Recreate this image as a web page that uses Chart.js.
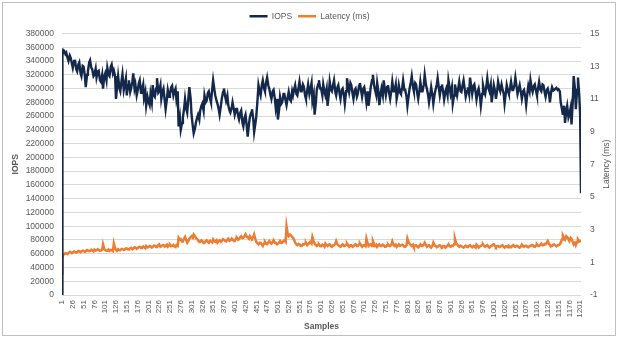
<!DOCTYPE html>
<html>
<head>
<meta charset="utf-8">
<script src="https://cdn.jsdelivr.net/npm/chart.js@4.4.0/dist/chart.umd.min.js"></script>
<style>
html, body { margin: 0; padding: 0; background: #fff; }
#wrap { position: relative; width: 619px; height: 338px; }
#wrap canvas { position: absolute; left: 0; top: 0; }
#frame { position: absolute; left: 2px; top: 2px; width: 612px; height: 332px; border: 1px solid #bfbfbf; pointer-events: none; }
</style>
</head>
<body>
<div id="wrap"><canvas id="myChart" width="619" height="338"></canvas><div id="frame"></div></div>
<script>
// sample numbers (about every 2-3 samples)
var samples = [1, 2, 4, 6, 9, 11, 14, 16, 19, 21, 24, 26, 29, 31, 34, 36, 39, 41, 44, 46, 49, 51, 54, 56, 59, 61, 64, 66, 69, 71, 74, 76, 79, 81, 84, 86, 89, 91, 94, 96, 99,
  101, 104, 106, 109, 111, 114, 116, 119, 121, 124, 126, 129, 131, 134, 136, 139, 141, 144, 146, 149, 151, 154, 156, 159, 161, 164, 166, 169, 171, 174, 176, 179, 181, 184, 186, 189, 191, 194, 196, 199,
  201, 204, 206, 209, 211, 214, 216, 219, 221, 224, 226, 229, 231, 234, 236, 239, 241, 244, 246, 249, 251, 254, 256, 259, 261, 264, 266, 269, 271, 274, 276, 279, 281, 284, 286, 289, 291, 294, 296, 299,
  301, 304, 306, 309, 311, 314, 316, 319, 321, 324, 326, 329, 331, 334, 336, 339, 341, 344, 346, 349, 351, 354, 356, 359, 361, 364, 366, 369, 371, 374, 376, 379, 381, 384, 386, 389, 391, 394, 396, 399,
  401, 404, 406, 409, 411, 414, 416, 419, 421, 424, 426, 429, 431, 434, 436, 439, 441, 444, 446, 449, 451, 454, 456, 459, 461, 464, 466, 469, 471, 474, 476, 479, 481, 484, 486, 489, 491, 494, 496, 499,
  501, 504, 506, 509, 511, 514, 516, 519, 521, 524, 526, 529, 531, 534, 536, 539, 541, 544, 546, 549, 551, 554, 556, 559, 561, 564, 566, 569, 571, 574, 576, 579, 581, 584, 586, 589, 591, 594, 596, 599,
  601, 604, 606, 609, 611, 614, 616, 619, 621, 624, 626, 629, 631, 634, 636, 639, 641, 644, 646, 649, 651, 654, 656, 659, 661, 664, 666, 669, 671, 674, 676, 679, 681, 684, 686, 689, 691, 694, 696, 699,
  701, 704, 706, 709, 711, 714, 716, 719, 721, 724, 726, 729, 731, 734, 736, 739, 741, 744, 746, 749, 751, 754, 756, 759, 761, 764, 766, 769, 771, 774, 776, 779, 781, 784, 786, 789, 791, 794, 796, 799,
  801, 804, 806, 809, 811, 814, 816, 819, 821, 824, 826, 829, 831, 834, 836, 839, 841, 844, 846, 849, 851, 854, 856, 859, 861, 864, 866, 869, 871, 874, 876, 879, 881, 884, 886, 889, 891, 894, 896, 899,
  901, 904, 906, 909, 911, 914, 916, 919, 921, 924, 926, 929, 931, 934, 936, 939, 941, 944, 946, 949, 951, 954, 956, 959, 961, 964, 966, 969, 971, 974, 976, 979, 981, 984, 986, 989, 991, 994, 996, 999,
  1001, 1004, 1006, 1009, 1011, 1014, 1016, 1019, 1021, 1024, 1026, 1029, 1031, 1034, 1036, 1039, 1041, 1044, 1046, 1049, 1051, 1054, 1056, 1059, 1061, 1064, 1066, 1069, 1071, 1074, 1076, 1079, 1081, 1084, 1086, 1089, 1091, 1094, 1096, 1099,
  1101, 1104, 1106, 1109, 1111, 1114, 1116, 1119, 1121, 1124, 1126, 1129, 1131, 1134, 1136, 1139, 1141, 1144, 1146, 1149, 1151, 1154, 1156, 1159, 1161, 1164, 1166, 1169, 1171, 1174, 1176, 1179, 1181, 1184, 1186, 1189, 1191, 1194, 1196, 1199,
  1201, 1203];

// IOPS in thousands
var iopsK = [0, 348, 356, 355, 350, 352, 344, 340, 348, 345, 336, 330, 340, 342, 328, 325, 335, 338, 322, 318, 333, 332, 318, 302, 320, 325, 338, 341, 330, 328, 318, 320, 329, 316, 325, 326, 312, 310, 320, 300, 318,
  322, 312, 330, 320, 318, 332, 335, 322, 326, 318, 285, 305, 318, 300, 296, 312, 321, 298, 305, 315, 290, 305, 312, 295, 300, 310, 322, 300, 306, 290, 296, 308, 312, 294, 298, 306, 286, 295, 275, 288,
  282, 276, 292, 280, 305, 290, 288, 300, 315, 294, 296, 305, 285, 296, 300, 282, 270, 285, 298, 288, 292, 302, 304, 290, 295, 300, 285, 296, 245, 258, 240, 250, 258, 272, 285, 270, 265, 288, 302, 285,
  262, 245, 235, 242, 250, 258, 262, 255, 268, 275, 278, 268, 290, 280, 282, 294, 296, 285, 280, 300, 312, 298, 290, 282, 278, 270, 262, 275, 285, 295, 300, 288, 282, 290, 276, 268, 265, 272, 280, 270,
  262, 270, 272, 260, 255, 265, 268, 250, 245, 258, 262, 245, 230, 248, 258, 265, 270, 255, 237, 250, 260, 285, 305, 295, 290, 306, 312, 300, 296, 310, 316, 304, 300, 290, 285, 296, 298, 285, 272, 285,
  255, 270, 288, 278, 280, 292, 292, 282, 276, 288, 295, 284, 282, 296, 290, 300, 305, 292, 290, 302, 310, 296, 296, 306, 303, 290, 285, 298, 306, 292, 298, 308, 282, 292, 262, 280, 298, 306, 312, 300,
  300, 290, 306, 295, 290, 300, 275, 292, 310, 298, 296, 306, 312, 295, 290, 302, 305, 292, 285, 298, 300, 290, 278, 296, 315, 302, 295, 308, 305, 292, 285, 298, 300, 288, 292, 304, 308, 296, 288, 300,
  302, 290, 280, 296, 275, 290, 302, 312, 320, 304, 298, 290, 308, 295, 276, 292, 300, 290, 312, 298, 290, 302, 305, 292, 285, 298, 310, 296, 296, 306, 285, 295, 305, 294, 292, 302, 312, 298, 298, 288,
  275, 290, 300, 310, 318, 302, 296, 308, 306, 292, 285, 298, 310, 296, 296, 306, 320, 305, 300, 290, 280, 292, 302, 290, 278, 292, 298, 306, 315, 300, 290, 302, 306, 294, 284, 296, 300, 290, 312, 300,
  292, 302, 278, 290, 306, 296, 290, 302, 310, 296, 295, 306, 312, 298, 288, 296, 302, 292, 316, 302, 292, 304, 306, 294, 284, 296, 300, 288, 275, 292, 305, 296, 292, 304, 315, 300, 296, 306, 280, 294,
  305, 296, 285, 298, 310, 300, 296, 306, 300, 292, 278, 294, 305, 296, 292, 302, 310, 298, 298, 306, 316, 302, 292, 300, 305, 294, 285, 296, 298, 288, 276, 294, 304, 296, 312, 300, 295, 304, 306, 296,
  290, 302, 310, 298, 296, 306, 305, 294, 288, 298, 300, 292, 280, 296, 302, 297, 298, 300, 301, 298, 299, 296, 280, 270, 262, 275, 250, 268, 275, 258, 262, 272, 248, 282, 318, 300, 270, 298, 316, 290,
  262, 148];

// Latency in ms
var latencyMs = [0.3, 1.3, 1.45, 1.5, 1.56, 1.55, 1.5, 1.58, 1.64, 1.62, 1.56, 1.6, 1.67, 1.65, 1.6, 1.62, 1.7, 1.68, 1.62, 1.66, 1.72, 1.7, 1.64, 1.68, 1.75, 1.75, 1.68, 1.7, 1.77, 1.72, 1.67, 1.78, 1.72, 1.74, 1.8, 1.76, 1.7, 1.72, 1.78, 2.1, 1.8,
  1.75, 1.7, 1.72, 1.78, 1.7, 1.76, 1.74, 1.69, 2.15, 1.85, 1.78, 1.72, 1.8, 1.74, 1.74, 1.82, 1.82, 1.76, 1.78, 1.86, 1.85, 1.78, 1.8, 1.87, 1.88, 1.8, 1.84, 1.92, 1.9, 1.82, 1.86, 1.94, 1.95, 1.87, 1.9, 1.97, 1.92, 1.86, 2.0, 1.92,
  1.93, 2.0, 1.98, 1.9, 1.95, 2.03, 2.02, 1.94, 1.96, 2.05, 2.1, 1.95, 1.98, 2.06, 2.05, 1.96, 2.0, 2.08, 1.96, 2.04, 2.08, 1.98, 2.0, 2.07, 1.98, 1.94, 2.05, 2.0, 2.5, 2.38, 2.42, 2.28, 2.3, 2.45, 2.55, 2.35, 2.2, 2.32, 2.45, 2.55,
  2.6, 2.5, 2.7, 2.6, 2.5, 2.42, 2.35, 2.25, 2.25, 2.35, 2.3, 2.18, 2.2, 2.3, 2.35, 2.25, 2.2, 2.32, 2.3, 2.22, 2.4, 2.28, 2.25, 2.35, 2.2, 2.3, 2.35, 2.25, 2.3, 2.42, 2.4, 2.3, 2.28, 2.38, 2.45, 2.32, 2.35, 2.45, 2.4, 2.3,
  2.3, 2.45, 2.5, 2.38, 2.42, 2.55, 2.6, 2.48, 2.5, 2.62, 2.72, 2.55, 2.55, 2.45, 2.6, 2.5, 2.45, 2.55, 2.7, 2.4, 2.25, 2.15, 2.1, 2.2, 2.2, 2.08, 2.0, 2.15, 2.25, 2.12, 2.1, 2.22, 2.3, 2.18, 2.15, 2.25, 2.35, 2.2, 2.2, 2.1,
  2.1, 2.2, 2.3, 2.18, 2.2, 2.3, 2.35, 2.25, 3.2, 2.7, 2.6, 2.7, 2.65, 2.55, 2.5, 2.35, 2.2, 2.1, 2.05, 2.12, 2.1, 2.0, 2.0, 2.1, 2.08, 2.15, 2.2, 2.05, 2.1, 2.2, 2.25, 2.15, 2.55, 2.3, 2.15, 2.05, 2.0, 2.08, 2.1, 1.98,
  1.98, 2.08, 2.05, 1.95, 2.15, 2.05, 2.0, 2.08, 2.1, 1.98, 1.95, 2.05, 2.05, 2.15, 2.3, 2.1, 2.05, 1.98, 1.95, 2.05, 2.1, 2.0, 2.0, 2.08, 2.15, 2.02, 1.95, 2.05, 2.05, 1.95, 1.98, 2.06, 2.1, 2.0, 2.0, 2.1, 2.15, 2.02, 1.95, 2.05,
  2.05, 1.98, 2.45, 2.15, 2.0, 2.08, 2.1, 2.0, 2.3, 2.1, 2.0, 2.08, 1.95, 2.05, 2.1, 2.0, 2.0, 2.08, 2.05, 1.95, 1.95, 2.05, 2.1, 2.0, 2.0, 2.1, 2.28, 2.05, 2.0, 2.08, 1.95, 2.02, 2.1, 2.0, 2.0, 2.08, 2.05, 1.95, 1.95, 2.05,
  2.45, 2.2, 2.15, 2.05, 2.0, 2.08, 1.95, 2.03, 2.05, 1.95, 1.92, 2.02, 2.1, 2.0, 2.0, 2.1, 2.2, 2.05, 1.95, 2.02, 2.05, 1.95, 1.9, 2.0, 2.2, 2.05, 2.0, 1.92, 1.95, 2.03, 2.05, 1.95, 1.92, 2.0, 2.0, 1.9, 1.95, 2.02, 2.1, 1.98,
  1.95, 2.02, 2.0, 2.1, 2.45, 2.15, 2.1, 2.0, 1.95, 2.02, 2.0, 1.92, 1.9, 1.98, 2.02, 1.94, 1.95, 2.03, 2.05, 1.96, 1.92, 2.0, 1.98, 1.9, 2.08, 1.98, 1.9, 1.98, 2.0, 2.06, 2.1, 1.98, 1.95, 2.02, 2.05, 1.94, 1.9, 1.98, 2.0, 2.08,
  2.1, 1.98, 1.92, 2.0, 2.0, 1.93, 1.95, 2.03, 2.05, 1.96, 1.9, 1.98, 1.98, 1.92, 2.0, 1.94, 1.92, 2.0, 2.05, 1.96, 1.95, 2.02, 2.0, 1.93, 1.9, 1.98, 2.08, 1.97, 1.95, 2.02, 2.02, 1.94, 1.92, 2.0, 2.0, 2.06, 2.05, 1.96, 1.95, 2.04,
  2.1, 2.0, 2.0, 2.08, 2.15, 2.05, 2.05, 2.12, 2.1, 2.2, 2.3, 2.12, 2.05, 2.0, 2.0, 2.08, 2.1, 2.02, 1.98, 2.05, 2.05, 2.1, 2.2, 2.4, 2.65, 2.5, 2.4, 2.6, 2.55, 2.4, 2.3, 2.5, 2.45, 2.25, 2.1, 2.2, 2.05, 2.25, 2.4, 2.28,
  2.3, 2.35];

// x axis tick labels
var tickLabels = [1, 26, 51, 76, 101, 126, 151, 176, 201, 226, 251, 276, 301, 326, 351, 376, 401, 426, 451, 476,
  501, 526, 551, 576, 601, 626, 651, 676, 701, 726, 751, 776, 801, 826, 851, 876, 901, 926, 951, 976,
  1001, 1026, 1051, 1076, 1101, 1126, 1151, 1176, 1201];

if (iopsK.length !== samples.length || latencyMs.length !== samples.length) {
    throw new Error('length mismatch ' + samples.length + ' ' + iopsK.length + ' ' + latencyMs.length);
}

var textColor = '#595959';
var fontFamily = "'Liberation Sans', Arial, sans-serif";

// legend sits a bit higher than chart.js puts it, so add some room below it
var legendGap = {
    id: 'legendGap',
    afterInit: function (chart) {
        var lg = chart.legend;
        var fit = lg.fit;
        lg.fit = function () {
            fit.call(this);
            this.height += 3;
        };
    }
};

// right axis title reads bottom-to-top
var rightTitle = {
    id: 'rightTitle',
    afterDraw: function (chart) {
        var a = chart.chartArea;
        var s = chart.scales.y2;
        var c = chart.ctx;
        c.save();
        c.translate(s.right - 4, (a.top + a.bottom) / 2);
        c.rotate(-Math.PI / 2);
        c.textAlign = 'center';
        c.textBaseline = 'middle';
        c.fillStyle = textColor;
        c.font = '8.5px ' + fontFamily;
        c.fillText('Latency (ms)', 0, 0);
        c.restore();
    }
};

var ctx = document.getElementById('myChart').getContext('2d');
var myChart = new Chart(ctx, {
    type: 'line',
    data: {
        datasets: [{
                label: 'IOPS',
                data: samples.map(function (s, i) { return { x: s, y: iopsK[i] * 1000 }; }),
                borderColor: '#14284b',
                backgroundColor: '#14284b',
                borderWidth: 2.4,
                pointRadius: 0,
                tension: 0,
                yAxisID: 'y',
            },
            {
                label: 'Latency (ms)',
                data: samples.map(function (s, i) { return { x: s, y: latencyMs[i] }; }),
                borderColor: '#ed7d31',
                backgroundColor: '#ed7d31',
                borderWidth: 2.5,
                pointRadius: 0,
                tension: 0,
                yAxisID: 'y2',
            },
        ]
    },
    options: {
        responsive: false,
        animation: false,
        layout: { padding: { left: 8, right: 8, top: 6, bottom: 3 } },
        plugins: {
            legend: {
                position: 'top',
                labels: {
                    usePointStyle: true,
                    pointStyle: 'line',
                    pointStyleWidth: 18,
                    padding: 6,
                    color: textColor,
                    font: { size: 8.5, family: fontFamily }
                }
            },
            tooltip: { enabled: false }
        },
        scales: {
            x: {
                type: 'linear',
                min: 1,
                max: 1203,
                afterBuildTicks: function (scale) {
                    scale.ticks = tickLabels.map(function (v) { return { value: v }; });
                },
                afterFit: function (scale) { scale.height = 40; },
                grid: { display: false, drawTicks: false },
                border: { display: false },
                ticks: {
                    autoSkip: false,
                    minRotation: 90,
                    maxRotation: 90,
                    padding: 5,
                    color: textColor,
                    font: { size: 8, family: fontFamily },
                    callback: function (v) { return String(v); }
                },
                title: {
                    display: true,
                    text: 'Samples',
                    color: textColor,
                    padding: { top: 0, bottom: 3 },
                    font: { size: 8.5, weight: 'bold', family: fontFamily }
                }
            },
            y: {
                position: 'left',
                min: 0,
                max: 380000,
                afterFit: function (scale) { scale.width = 54; },
                grid: { color: '#d9d9d9', drawTicks: false },
                border: { display: false },
                ticks: {
                    stepSize: 20000,
                    padding: 8,
                    color: textColor,
                    font: { size: 8.5, family: fontFamily },
                    callback: function (v) { return String(v); }
                },
                title: {
                    display: true,
                    text: 'IOPS',
                    color: textColor,
                    padding: { top: 3, bottom: 0 },
                    font: { size: 8.5, weight: 'bold', family: fontFamily }
                }
            },
            y2: {
                position: 'right',
                min: -1,
                max: 15,
                afterFit: function (scale) { scale.width = 30; },
                grid: { drawOnChartArea: false, drawTicks: false },
                border: { display: false },
                ticks: {
                    stepSize: 2,
                    padding: 9,
                    color: textColor,
                    font: { size: 8.5, family: fontFamily }
                }
            }
        }
    },
    plugins: [legendGap, rightTitle]
});
</script>
</body>
</html>
